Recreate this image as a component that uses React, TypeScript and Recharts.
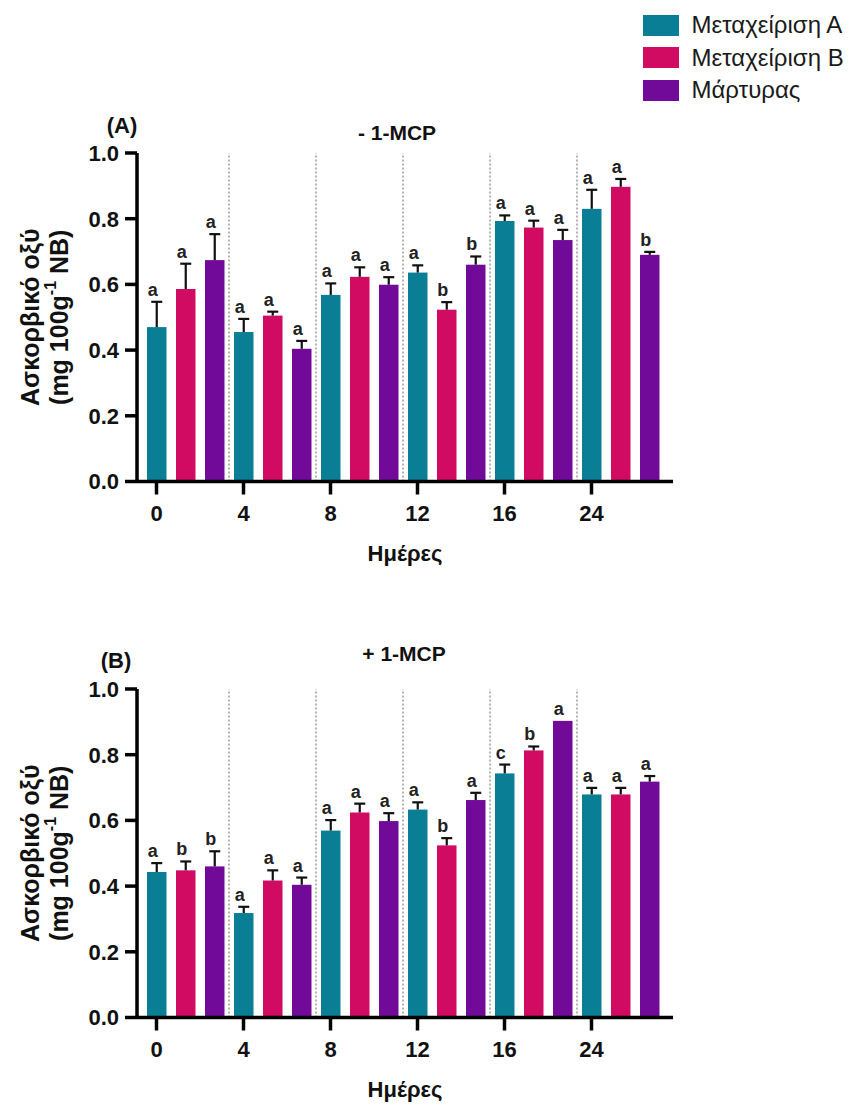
import React from "react";
import { BarChart, Bar, XAxis, YAxis, ReferenceLine, Label } from "recharts";

const days = ["0", "4", "8", "12", "16", "24"];
const seriesNames = ["Μεταχείριση Α", "Μεταχείριση Β", "Μάρτυρας"];
const seriesColors = ["#0A7E95", "#D10A62", "#720A99"];
const yTicks = [0, 0.2, 0.4, 0.6, 0.8, 1.0];

// (A) - 1-MCP
const aTreatA = [0.47, 0.455, 0.568, 0.636, 0.793, 0.83];
const aTreatB = [0.586, 0.505, 0.623, 0.523, 0.773, 0.897];
const aControl = [0.674, 0.404, 0.599, 0.66, 0.735, 0.69];
const aErrTreatA = [0.077, 0.04, 0.035, 0.022, 0.017, 0.058];
const aErrTreatB = [0.077, 0.012, 0.029, 0.023, 0.021, 0.024];
const aErrControl = [0.079, 0.024, 0.023, 0.025, 0.031, 0.009];
const aLetTreatA = ["a", "a", "a", "a", "a", "a"];
const aLetTreatB = ["a", "a", "a", "b", "a", "a"];
const aLetControl = ["a", "a", "a", "b", "a", "b"];

// (B) + 1-MCP
const bTreatA = [0.443, 0.318, 0.569, 0.633, 0.743, 0.679];
const bTreatB = [0.448, 0.417, 0.624, 0.524, 0.813, 0.679];
const bControl = [0.46, 0.404, 0.598, 0.662, 0.903, 0.718];
const bErrTreatA = [0.027, 0.019, 0.032, 0.022, 0.027, 0.02];
const bErrTreatB = [0.027, 0.031, 0.027, 0.022, 0.012, 0.02];
const bErrControl = [0.046, 0.022, 0.024, 0.022, 0, 0.017];
const bLetTreatA = ["a", "a", "a", "a", "c", "a"];
const bLetTreatB = ["b", "a", "a", "b", "b", "a"];
const bLetControl = ["b", "a", "a", "a", "a", "a"];

const FONT = '"Liberation Sans", Arial, sans-serif';

interface Row {
  key: string;
  day: string;
  series: number;
  value: number;
  err: number;
  letter: string;
}

function buildRows(values: number[][], errs: number[][], letters: string[][]): Row[] {
  const rows: Row[] = [];
  days.forEach((day, i) => {
    values.forEach((vals, s) => {
      rows.push({
        key: `${day}-${s}`,
        day,
        series: s,
        value: vals[i],
        err: errs[s][i],
        letter: letters[s][i],
      });
    });
  });
  return rows;
}

const rowsA = buildRows(
  [aTreatA, aTreatB, aControl],
  [aErrTreatA, aErrTreatB, aErrControl],
  [aLetTreatA, aLetTreatB, aLetControl]
);
const rowsB = buildRows(
  [bTreatA, bTreatB, bControl],
  [bErrTreatA, bErrTreatB, bErrControl],
  [bLetTreatA, bLetTreatB, bLetControl]
);

// bar + upper error bar + significance letter
function BarWithError(props: any) {
  const { x, y, width, height, payload } = props;
  if (!payload || !payload.value || !height) return null;
  const perUnit = height / payload.value;
  const errTop = y - payload.err * perUnit;
  const cx = x + width / 2;
  return (
    <g>
      <rect x={x} y={y} width={width} height={height} fill={seriesColors[payload.series]} />
      {payload.err > 0 && (
        <g stroke="#111" strokeWidth={2.2}>
          <line x1={cx} x2={cx} y1={y} y2={errTop} />
          <line x1={cx - 5.5} x2={cx + 5.5} y1={errTop} y2={errTop} />
        </g>
      )}
      <text
        x={cx - 4}
        y={errTop - 6}
        textAnchor="middle"
        fontFamily={FONT}
        fontWeight={700}
        fontSize={18}
        fill="#222"
      >
        {payload.letter}
      </text>
    </g>
  );
}

function renderYLabel(props: any) {
  const vb = props.viewBox || { y: 153, height: 328.5 };
  const cy = vb.y + vb.height / 2;
  return (
    <g fontFamily={FONT} fontWeight={700} fontSize={25} fill="#111">
      <text x={30} y={cy} textAnchor="middle" dominantBaseline="central" transform={`rotate(-90, 30, ${cy})`}>
        Ασκορβικό οξύ
      </text>
      <text x={59} y={cy} textAnchor="middle" dominantBaseline="central" transform={`rotate(-90, 59, ${cy})`}>
        <tspan>(mg 100g</tspan>
        <tspan dy={-9} fontSize={16}>-1</tspan>
        <tspan dy={9}> NB)</tspan>
      </text>
    </g>
  );
}

function renderXLabel(props: any) {
  const vb = props.viewBox || { x: 137, y: 481.5, width: 536 };
  return (
    <text
      x={vb.x + vb.width / 2}
      y={vb.y + 79}
      textAnchor="middle"
      fontFamily={FONT}
      fontWeight={700}
      fontSize={22}
      fill="#111"
    >
      Ημέρες
    </text>
  );
}

interface PanelProps {
  top: number;
  rows: Row[];
  tag: string;
  tagX: number;
  tagY: number;
  title: string;
  titleX: number;
  titleY: number;
}

function Panel({ top, rows, tag, tagX, tagY, title, titleX, titleY }: PanelProps) {
  return (
    <div style={{ position: "absolute", left: 0, top, width: 851, height: 567 }}>
      <BarChart
        width={700}
        height={566.5}
        data={rows}
        margin={{ top: 153, right: 27, bottom: 0, left: 0 }}
      >
        <XAxis
          dataKey="key"
          interval={2}
          tickFormatter={(k: string) => k.split("-")[0]}
          padding={{ left: 5, right: 9 }}
          height={85}
          axisLine={{ stroke: "#000", strokeWidth: 3.5 }}
          tickLine={{ stroke: "#000", strokeWidth: 3.5 }}
          tickSize={13}
          tickMargin={11}
          tick={{ fill: "#111", fontSize: 22, fontWeight: 700, fontFamily: FONT }}
        >
          <Label content={renderXLabel} />
        </XAxis>
        <YAxis
          width={137}
          domain={[0, 1]}
          ticks={yTicks}
          tickFormatter={(v: number) => v.toFixed(1)}
          axisLine={{ stroke: "#000", strokeWidth: 3.5 }}
          tickLine={{ stroke: "#000", strokeWidth: 3.5 }}
          tickSize={12}
          tickMargin={6}
          tick={{ fill: "#111", fontSize: 22, fontWeight: 700, fontFamily: FONT }}
        >
          <Label content={renderYLabel} />
        </YAxis>
        {days.slice(0, -1).map((d) => (
          <ReferenceLine
            key={d}
            x={`${d}-2`}
            position="end"
            stroke="#9a9a9a"
            strokeWidth={1.5}
            strokeDasharray="2 2"
          />
        ))}
        <Bar dataKey="value" barSize={19.5} shape={BarWithError} isAnimationActive={false} />
      </BarChart>
      <svg
        width={851}
        height={200}
        style={{ position: "absolute", left: 0, top: 0, pointerEvents: "none" }}
      >
        <text x={tagX} y={tagY} textAnchor="middle" dominantBaseline="central" fontFamily={FONT} fontWeight={700} fontSize={22} fill="#111">
          {tag}
        </text>
        <text x={titleX} y={titleY} textAnchor="middle" dominantBaseline="central" fontFamily={FONT} fontWeight={700} fontSize={21} fill="#111">
          {title}
        </text>
      </svg>
    </div>
  );
}

export default function App() {
  return (
    <div style={{ position: "absolute", left: 0, top: 0, width: 851, height: 1107, background: "#fff", fontFamily: FONT }}>
      <div style={{ position: "absolute", left: 643, top: 9 }}>
        {seriesNames.map((name, i) => (
          <div key={name} style={{ display: "flex", alignItems: "center", height: 32.5 }}>
            <div style={{ width: 35.5, height: 21, background: seriesColors[i], marginRight: 13 }} />
            <span style={{ fontSize: 24, color: "#1a1a1a", whiteSpace: "nowrap" }}>{name}</span>
          </div>
        ))}
      </div>
      <Panel top={0} rows={rowsA} tag="(A)" tagX={122} tagY={125} title="- 1-MCP" titleX={397} titleY={132} />
      <Panel top={535.5} rows={rowsB} tag="(B)" tagX={116} tagY={124.5} title="+ 1-MCP" titleX={404} titleY={117} />
    </div>
  );
}
